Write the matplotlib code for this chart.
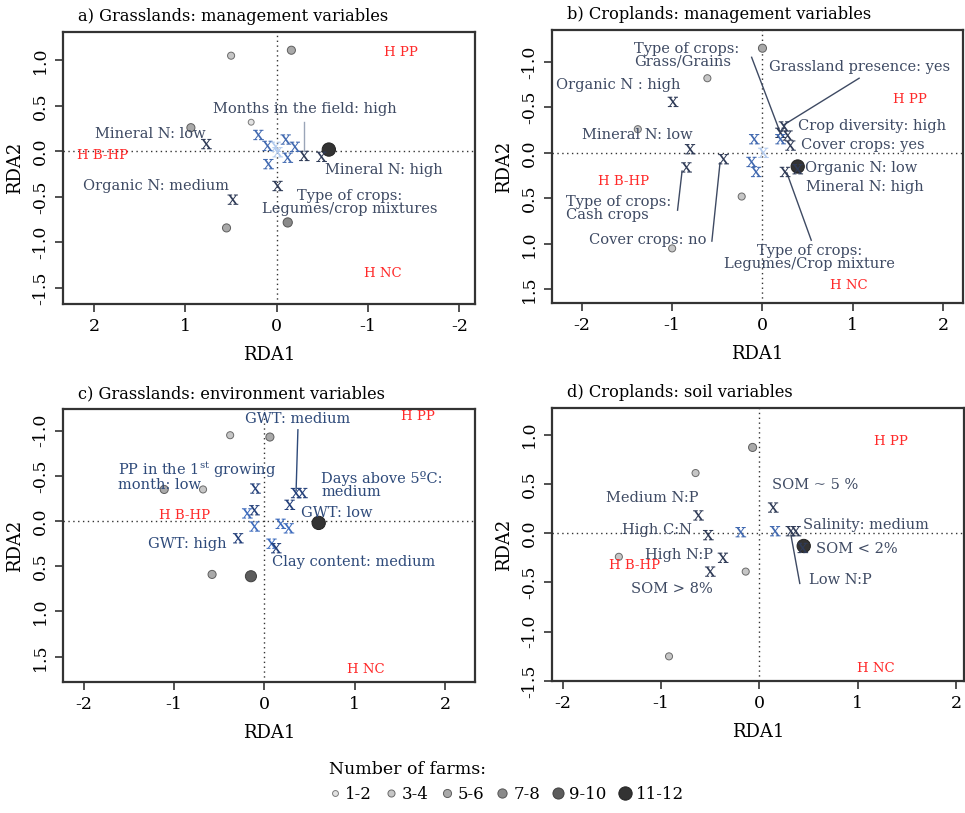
import matplotlib
matplotlib.use("Agg")
import matplotlib.pyplot as plt
from matplotlib.lines import Line2D

plt.rcParams['font.family'] = ['DejaVu Serif']
plt.rcParams['mathtext.fontset'] = 'dejavuserif'
plt.rcParams['axes.unicode_minus'] = False

# ---------------- data ----------------
farm_classes = ['1-2', '3-4', '5-6', '7-8', '9-10', '11-12']

# Panel a) Grasslands: management variables
a_dot_x = [0.50, -0.16, 0.28, 0.94, 0.55, -0.12, -0.57]
a_dot_y = [1.05, 1.11, 0.32, 0.26, -0.84, -0.78, 0.02]
a_dot_n = [1, 2, 0, 2, 2, 3, 5]
a_x_x = [0.77, 0.48, -0.01, -0.30, -0.49, 0.20, 0.10, 0.09, -0.10, -0.20, -0.12, 0.01, -0.01]
a_x_y = [0.08, -0.53, -0.38, -0.05, -0.06, 0.18, 0.06, -0.14, 0.13, 0.05, -0.07, 0.05, -0.01]
a_x_c = [0, 0, 0, 0, 0, 1, 1, 1, 1, 1, 1, 2, 2]
a_lab = ['Months in the field: high', 'Mineral N: low', 'Mineral N: high',
         'Organic N: medium', 'Type of crops:\nLegumes/crop mixtures']
a_lab_x = [-0.31, 1.38, -1.17, 1.32, -0.80]
a_lab_y = [0.47, 0.19, -0.20, -0.38, -0.56]
a_h_lab = ['H PP', 'H B-HP', 'H NC']
a_h_x = [-1.36, 1.91, -1.16]
a_h_y = [1.08, -0.05, -1.34]
a_seg = [((-0.30, 0.32), (-0.30, 0.00))]

# Panel b) Croplands: management variables
b_dot_x = [0.0, -0.61, -1.38, -0.23, -1.0, 0.39]
b_dot_y = [-1.15, -0.82, -0.26, 0.48, 1.05, 0.15]
b_dot_n = [2, 1, 1, 1, 1, 5]
b_x_x = [-0.99, -0.80, -0.84, -0.43, -0.09, -0.12, -0.07, 0.01, 0.24, 0.20, 0.28, 0.20, 0.31, 0.25, 0.39]
b_x_y = [-0.56, -0.04, 0.16, 0.07, -0.15, 0.10, 0.21, 0.0, -0.29, -0.22, -0.19, -0.15, -0.08, 0.21, 0.18]
b_x_c = [0, 0, 0, 0, 1, 1, 1, 2, 0, 0, 0, 1, 0, 0, 0]
b_lab = ['Grassland presence: yes', 'Organic N : high', 'Mineral N: low',
         'Crop diversity: high', 'Cover crops: yes', 'Organic N: low',
         'Mineral N: high', 'Cover crops: no', 'Type of crops:\nLegumes/Crop mixture']
b_lab_x = [1.07, -1.60, -1.39, 1.21, 1.11, 1.09, 1.13, -1.27, 0.52]
b_lab_y = [-0.94, -0.75, -0.20, -0.29, -0.085, 0.165, 0.37, 0.96, 1.15]
b_llab = ['Type of crops:\nGrass/Grains', 'Type of crops:\nCash crops']
b_llab_x = [-1.42, -2.17]
b_llab_y = [-1.07, 0.61]
b_h_lab = ['H PP', 'H B-HP', 'H NC']
b_h_x = [1.63, -1.54, 0.96]
b_h_y = [-0.59, 0.32, 1.46]
b_seg = [((-0.12, -1.05), (0.19, -0.24)), ((1.07, -0.82), (0.24, -0.31)),
         ((0.27, 0.22), (0.54, 0.96)), ((-0.94, 0.63), (-0.89, 0.20)),
         ((-0.56, 0.97), (-0.47, 0.11))]

# Panel c) Grasslands: environment variables
c_dot_x = [-0.38, 0.06, -1.11, -0.68, -0.58, -0.15, 0.60]
c_dot_y = [-0.95, -0.93, -0.35, -0.35, 0.59, 0.61, 0.02]
c_dot_n = [1, 2, 2, 1, 2, 4, 5]
c_x_x = [-0.10, -0.19, -0.11, -0.11, -0.29, 0.28, 0.35, 0.42, 0.18, 0.27, 0.08, 0.13]
c_x_y = [-0.36, -0.085, -0.12, 0.06, 0.19, -0.18, -0.31, -0.31, 0.03, 0.08, 0.25, 0.30]
c_x_c = [0, 1, 0, 1, 0, 0, 0, 0, 1, 1, 1, 0]
c_lab = ['GWT: medium', 'GWT: low', 'GWT: high', 'Clay content: medium']
c_lab_x = [0.37, 0.80, -0.85, 0.99]
c_lab_y = [-1.13, -0.09, 0.25, 0.45]
c_llab = ['PP in the 1$^{\\mathrm{st}}$ growing\nmonth: low', 'Days above 5ºC:\nmedium']
c_llab_x = [-1.62, 0.63]
c_llab_y = [-0.50, -0.40]
c_h_lab = ['H PP', 'H B-HP', 'H NC']
c_h_x = [1.70, -0.88, 1.12]
c_h_y = [-1.16, -0.06, 1.64]
c_seg = [((0.37, -1.01), (0.35, -0.34))]

# Panel d) Croplands: soil variables
d_dot_x = [-0.07, -0.65, -1.43, -0.14, -0.92, 0.45]
d_dot_y = [0.87, 0.61, -0.24, -0.39, -1.25, -0.13]
d_dot_n = [2, 1, 1, 1, 1, 5]
d_x_x = [-0.62, -0.52, -0.37, -0.50, -0.19, 0.16, 0.14, 0.32, 0.37, 0.44]
d_x_y = [0.18, -0.02, -0.25, -0.39, 0.01, 0.02, 0.26, 0.02, 0.02, -0.15]
d_x_c = [0, 0, 0, 0, 1, 1, 0, 0, 0, 0]
d_lab = ['SOM ~ 5 %', 'Medium N:P', 'High C:N', 'Salinity: medium', 'SOM < 2%',
         'High N:P', 'Low N:P', 'SOM > 8%']
d_lab_x = [0.57, -1.09, -1.04, 1.08, 0.99, -0.82, 0.82, -0.89]
d_lab_y = [0.49, 0.36, 0.03, 0.085, -0.16, -0.22, -0.48, -0.57]
d_h_lab = ['H PP', 'H B-HP', 'H NC']
d_h_x = [1.34, -1.27, 1.18]
d_h_y = [0.93, -0.33, -1.37]
d_seg = [((0.41, -0.51), (0.32, -0.02))]

# ---------------- style ----------------
dot_sizes = [18, 26, 34, 44, 64, 92]
dot_cols = ['#e2e2e2', '#c6c6c6', '#a9a9a9', '#8a8a8a', '#5c5c5c', '#333333']
dot_edges = ['#7a7a7a', '#6a6a6a', '#5e5e5e', '#555555', '#404040', '#222222']
x_cols_std = ['#2f3b57', '#4169b0', '#b3cbee']
x_cols_c = ['#24407a', '#3d6bbd', '#b3cbee']
lab_col = '#3e4a63'
lab_col_c = '#2e4a7a'
red = '#ff2a2a'

W, H = 965, 813
fig = plt.figure(figsize=(W / 100, H / 100), dpi=100)


def rect(l, t, r, b):
    return [l / W, 1 - b / H, (r - l) / W, (b - t) / H]


def panel(pos, title, xlim, ylim, xt, yt, dx, dy, dn, xx, xy, xc, labs, lx, ly,
          hl, hx, hy, segs, llabs=(), llx=(), lly=(), xcols=x_cols_std,
          lcol=lab_col, segcol=lab_col):
    ax = fig.add_axes(pos)
    ax.set_xlim(*xlim)
    ax.set_ylim(*ylim)
    ax.axhline(0, color='#333333', ls=(0, (1, 2.5)), lw=1, zorder=1)
    ax.axvline(0, color='#333333', ls=(0, (1, 2.5)), lw=1, zorder=1)
    for (x0, y0), (x1, y1) in segs:
        ax.plot([x0, x1], [y0, y1], color=segcol, lw=1, zorder=2)
    ax.scatter(dx, dy, s=[dot_sizes[n] for n in dn], c=[dot_cols[n] for n in dn],
               edgecolors=[dot_edges[n] for n in dn], linewidths=0.7, zorder=3)
    ax.scatter(xx, xy, marker=r'$\mathrm{x}$', s=60, c=[xcols[c] for c in xc],
               linewidths=0, zorder=4)
    for t, x, y in zip(labs, lx, ly):
        ax.text(x, y, t, ha='center', va='center', fontsize=10.5, color=lcol,
                linespacing=0.9, multialignment='center', zorder=5)
    for t, x, y in zip(llabs, llx, lly):
        ax.text(x, y, t, ha='left', va='center', fontsize=10.5, color=lcol,
                linespacing=0.9, multialignment='left', zorder=5)
    for t, x, y in zip(hl, hx, hy):
        ax.text(x, y, t, ha='center', va='center', fontsize=9.5, color=red, zorder=5)
    ax.set_xticks(xt)
    ax.set_xticklabels([f'{v:g}' for v in xt])
    ax.set_yticks(yt)
    ax.set_yticklabels([f'{v:.1f}' for v in yt], rotation=90, va='center')
    ax.tick_params(direction='out', length=6, width=1.2, color='#333333',
                   labelsize=12.5, pad=4)
    for s in ax.spines.values():
        s.set_color('#333333')
        s.set_linewidth(1.6)
    ax.set_xlabel('RDA1', fontsize=13, labelpad=8)
    ax.set_ylabel('RDA2', fontsize=13, labelpad=6)
    ax.set_title(title, loc='left', fontsize=11.7, pad=8, x=0.036)
    return ax


panel(rect(63, 32, 475, 304), 'a) Grasslands: management variables',
      (2.34, -2.17), (-1.675, 1.31), [2, 1, 0, -1, -2], [1.0, 0.5, 0.0, -0.5, -1.0, -1.5],
      a_dot_x, a_dot_y, a_dot_n, a_x_x, a_x_y, a_x_c, a_lab, a_lab_x, a_lab_y,
      a_h_lab, a_h_x, a_h_y, a_seg, segcol='#9aa5b8')

panel(rect(552, 30, 963, 303), 'b) Croplands: management variables',
      (-2.33, 2.22), (1.65, -1.35), [-2, -1, 0, 1, 2], [-1.0, -0.5, 0.0, 0.5, 1.0, 1.5],
      b_dot_x, b_dot_y, b_dot_n, b_x_x, b_x_y, b_x_c, b_lab, b_lab_x, b_lab_y,
      b_h_lab, b_h_x, b_h_y, b_seg, b_llab, b_llab_x, b_llab_y)

panel(rect(63, 409, 475, 682), 'c) Grasslands: environment variables',
      (-2.23, 2.33), (1.78, -1.24), [-2, -1, 0, 1, 2], [-1.0, -0.5, 0.0, 0.5, 1.0, 1.5],
      c_dot_x, c_dot_y, c_dot_n, c_x_x, c_x_y, c_x_c, c_lab, c_lab_x, c_lab_y,
      c_h_lab, c_h_x, c_h_y, c_seg, c_llab, c_llab_x, c_llab_y,
      xcols=x_cols_c, lcol=lab_col_c, segcol=lab_col_c)

panel(rect(552, 408, 964, 681), 'd) Croplands: soil variables',
      (-2.11, 2.08), (-1.5, 1.27), [-2, -1, 0, 1, 2], [1.0, 0.5, 0.0, -0.5, -1.0, -1.5],
      d_dot_x, d_dot_y, d_dot_n, d_x_x, d_x_y, d_x_c, d_lab, d_lab_x, d_lab_y,
      d_h_lab, d_h_x, d_h_y, d_seg)

handles = [Line2D([], [], ls='none', marker='o', markersize=dot_sizes[i] ** 0.5,
                  markerfacecolor=dot_cols[i], markeredgecolor=dot_edges[i],
                  markeredgewidth=0.7) for i in range(len(farm_classes))]
leg = fig.legend(handles, farm_classes, loc='upper left',
                 bbox_to_anchor=(322 / W, 1 - 754 / H), ncol=6, frameon=False,
                 title='Number of farms:', alignment='left', fontsize=12,
                 title_fontsize=12.5, handlelength=0.7, handletextpad=0.3,
                 columnspacing=0.75, borderaxespad=0)

fig.savefig('out.png', dpi=100)
